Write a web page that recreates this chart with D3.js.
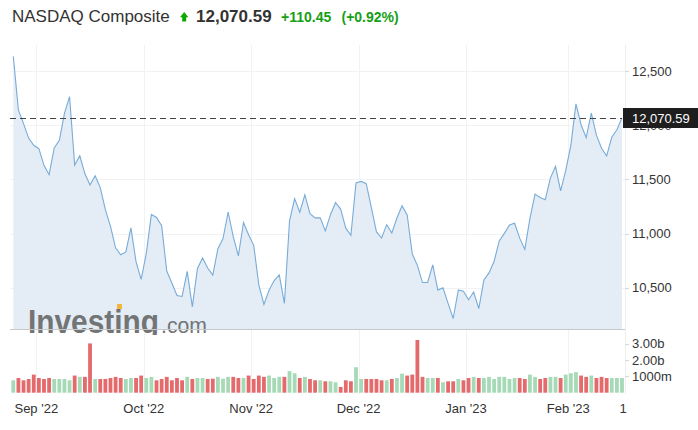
<!DOCTYPE html>
<html><head><meta charset="utf-8">
<script src="https://cdn.jsdelivr.net/npm/d3@7"></script>
<style>body{margin:0;background:#fff}svg{display:block;font-family:"Liberation Sans",Arial,sans-serif}</style>
</head><body><svg id="c" width="698" height="430"></svg>
<script>
// ---- data ----
const title = "NASDAQ Composite";
const lastLabel = "12,070.59";
const changeLabel = "+110.45";
const changePctLabel = "(+0.92%)";
const lastValue = 12070.59;
const prevClose = 12431.53; // close before first point
const dates = ["2022-08-25","2022-08-26","2022-08-29","2022-08-30","2022-08-31",
"2022-09-01","2022-09-02","2022-09-06","2022-09-07","2022-09-08","2022-09-09","2022-09-12","2022-09-13","2022-09-14","2022-09-15","2022-09-16","2022-09-19","2022-09-20","2022-09-21","2022-09-22","2022-09-23","2022-09-26","2022-09-27","2022-09-28","2022-09-29","2022-09-30",
"2022-10-03","2022-10-04","2022-10-05","2022-10-06","2022-10-07","2022-10-10","2022-10-11","2022-10-12","2022-10-13","2022-10-14","2022-10-17","2022-10-18","2022-10-19","2022-10-20","2022-10-21","2022-10-24","2022-10-25","2022-10-26","2022-10-27","2022-10-28","2022-10-31",
"2022-11-01","2022-11-02","2022-11-03","2022-11-04","2022-11-07","2022-11-08","2022-11-09","2022-11-10","2022-11-11","2022-11-14","2022-11-15","2022-11-16","2022-11-17","2022-11-18","2022-11-21","2022-11-22","2022-11-23","2022-11-25","2022-11-28","2022-11-29","2022-11-30",
"2022-12-01","2022-12-02","2022-12-05","2022-12-06","2022-12-07","2022-12-08","2022-12-09","2022-12-12","2022-12-13","2022-12-14","2022-12-15","2022-12-16","2022-12-19","2022-12-20","2022-12-21","2022-12-22","2022-12-23","2022-12-27","2022-12-28","2022-12-29","2022-12-30",
"2023-01-03","2023-01-04","2023-01-05","2023-01-06","2023-01-09","2023-01-10","2023-01-11","2023-01-12","2023-01-13","2023-01-17","2023-01-18","2023-01-19","2023-01-20","2023-01-23","2023-01-24","2023-01-25","2023-01-26","2023-01-27","2023-01-30","2023-01-31",
"2023-02-01","2023-02-02","2023-02-03","2023-02-06","2023-02-07","2023-02-08","2023-02-09","2023-02-10","2023-02-13","2023-02-14","2023-02-15"];
const closes = [12639.27,12141.71,12017.67,11883.14,11816.20,
11785.13,11630.86,11544.91,11791.90,11862.13,12112.31,12266.41,11633.57,11719.68,11552.36,11448.40,11535.02,11425.05,11220.19,11066.81,10867.93,10802.92,10829.50,11051.64,10737.51,10575.62,
10815.43,11176.41,11148.64,11073.31,10652.41,10542.10,10426.19,10417.10,10649.15,10321.39,10675.80,10772.40,10680.51,10614.84,10859.72,10952.61,11199.12,10970.99,10792.68,11102.45,10988.15,
10890.85,10524.80,10342.94,10475.25,10564.52,10616.20,10353.17,11114.15,11323.33,11196.22,11358.41,11183.66,11144.96,11146.06,11024.51,11174.41,11285.32,11226.36,11049.50,10983.78,11468.00,
11482.45,11461.50,11239.94,11014.89,10958.55,11082.00,11004.62,11143.74,11256.81,11170.89,10810.53,10705.41,10546.03,10547.11,10709.37,10476.12,10497.86,10353.23,10213.29,10478.09,10466.48,
10386.98,10458.76,10305.24,10569.29,10635.65,10742.63,10931.67,11001.10,11079.16,11095.11,10957.01,10852.27,11140.43,11364.41,11334.27,11313.36,11512.41,11621.71,11393.81,11584.55,
11816.32,12200.82,12006.96,11887.45,12113.79,11910.52,11789.58,11718.12,11891.79,11960.15,12070.59];
// volume in billions
const volumes = [0.76,0.90,0.76,0.84,1.11,
0.90,0.84,0.90,0.84,0.84,0.84,0.76,1.05,0.97,0.97,3.02,0.84,0.84,0.84,0.90,0.97,0.90,0.84,0.90,0.90,1.05,
0.90,0.97,0.76,0.84,0.97,0.76,0.90,0.76,0.97,0.84,0.90,0.90,0.84,0.86,0.97,0.86,0.97,0.97,0.90,0.90,1.05,
0.84,1.05,0.97,1.05,0.90,0.97,0.97,1.32,1.19,0.90,0.97,0.84,0.76,0.76,0.70,0.70,0.64,0.35,0.76,0.70,1.56,
0.84,0.84,0.84,0.84,0.76,0.76,0.84,0.90,1.17,1.05,1.11,3.23,0.97,0.90,0.90,0.90,0.64,0.70,0.70,0.84,0.76,
0.90,0.97,0.90,0.90,0.97,0.84,0.97,0.97,0.84,0.90,0.90,0.84,1.11,0.97,0.84,0.90,0.97,0.97,0.90,1.11,
1.19,1.26,1.05,0.97,1.05,0.90,0.97,0.90,0.90,0.90,0.90];
const priceTicks = [10500, 11000, 11500, 12000, 12500];
const volTicks = [1, 2, 3];
const volTickLabels = ["1000m", "2.00b", "3.00b"];
const monthTickIdx = [5, 26, 47, 68, 89, 109];
const monthTickLabels = ["Sep '22", "Oct '22", "Nov '22", "Dec '22", "Jan '23", "Feb '23"];
const edgeTickLabel = "1";

// ---- drawing ----
const svg = d3.select("#c");
const n = closes.length;
const x = d3.scaleLinear().domain([0, n - 1]).range([13.3, 622]);
const y = d3.scaleLinear().domain([10116, 12745]).range([329, 45]);
const yv = d3.scaleLinear().domain([0, 3.5]).range([392.7, 335.6]);
const plotL = 10, plotR = 625;
const fmt = d3.format(",");

// grid
const grid = svg.append("g");
grid.selectAll("line.h").data(priceTicks).join("line")
  .attr("x1", plotL).attr("x2", plotR).attr("y1", d => Math.round(y(d)) + 0.5).attr("y2", d => Math.round(y(d)) + 0.5)
  .attr("stroke", "#f0f2f4");
grid.selectAll("line.v").data(monthTickIdx).join("line")
  .attr("x1", d => Math.round(x(d - 0.5)) + 0.5).attr("x2", d => Math.round(x(d - 0.5)) + 0.5)
  .attr("y1", 45).attr("y2", 394).attr("stroke", "#f0f2f4");

// area + line
const area = d3.area().x((d, i) => x(i)).y0(329).y1(d => y(d));
svg.append("path").datum(closes).attr("d", area).attr("fill", "#e4edf5");

// watermark
svg.append("clipPath").attr("id", "wmclip").append("rect").attr("x", 0).attr("y", 280).attr("width", 300).attr("height", 55);
const wm = svg.append("g").attr("clip-path", "url(#wmclip)");
wm.append("text").attr("x", 28).attr("y", 333).attr("font-size", 34).attr("font-weight", "bold")
  .attr("textLength", 131).attr("lengthAdjust", "spacingAndGlyphs").attr("fill", "#727476").text("Investing");
wm.append("rect").attr("x", 117).attr("y", 304).attr("width", 5).attr("height", 5).attr("fill", "#f2b63c");
wm.append("text").attr("x", 161).attr("y", 333).attr("font-size", 22)
  .attr("textLength", 46).attr("lengthAdjust", "spacingAndGlyphs").attr("fill", "#727476").text(".com");

const line = d3.line().x((d, i) => x(i)).y(d => y(d));
svg.append("path").datum(closes).attr("d", line).attr("fill", "none").attr("stroke", "#78acd8").attr("stroke-width", 1.1);

// bottom of price panel
svg.append("line").attr("x1", plotL).attr("x2", plotR).attr("y1", 329.5).attr("y2", 329.5).attr("stroke", "#c8c8c8");
// right border
svg.append("line").attr("x1", plotR + 0.5).attr("x2", plotR + 0.5).attr("y1", 45).attr("y2", 394).attr("stroke", "#eceef0");

// volume bars
svg.append("g").selectAll("rect").data(volumes).join("rect")
  .attr("x", (d, i) => x(i) - 1.9).attr("width", 3.8)
  .attr("y", d => yv(d)).attr("height", d => yv(0) - yv(d))
  .attr("fill", (d, i) => (closes[i] >= (i === 0 ? prevClose : closes[i - 1])) ? "#a6dab7" : "#e46a6c");

// price axis labels
const axisG = svg.append("g").attr("font-size", 13).attr("fill", "#333");
axisG.selectAll("text.p").data(priceTicks).join("text")
  .attr("x", 632).attr("y", d => y(d) + 4.5).text(d => fmt(d));
svg.append("g").selectAll("line").data(priceTicks).join("line")
  .attr("x1", plotR).attr("x2", plotR + 4).attr("y1", d => Math.round(y(d)) + 0.5).attr("y2", d => Math.round(y(d)) + 0.5).attr("stroke", "#d8d8d8");
// volume axis
axisG.selectAll("text.v").data(volTicks).join("text")
  .attr("x", 632).attr("y", d => yv(d) + 4.5).text((d, i) => volTickLabels[i]);
svg.append("g").selectAll("line").data(volTicks).join("line")
  .attr("x1", plotR).attr("x2", plotR + 4).attr("y1", d => Math.round(yv(d)) + 0.5).attr("y2", d => Math.round(yv(d)) + 0.5).attr("stroke", "#d8d8d8");
// x labels
axisG.selectAll("text.x").data(monthTickIdx).join("text")
  .attr("x", d => x(d - 0.5)).attr("y", 413).attr("text-anchor", "middle").text((d, i) => monthTickLabels[i]);
axisG.append("text").attr("x", x(n - 1) + 1).attr("y", 413).attr("text-anchor", "middle").text(edgeTickLabel);

// last price dashed line + label
const ly = Math.round(y(lastValue)) + 0.5;
svg.append("line").attr("x1", plotL).attr("x2", x(n - 1)).attr("y1", ly).attr("y2", ly)
  .attr("stroke", "#444").attr("stroke-dasharray", "6,4");
svg.append("rect").attr("x", 623).attr("y", ly - 10.5).attr("width", 80).attr("height", 20).attr("fill", "#1e1e1e");
svg.append("text").attr("x", 632).attr("y", ly + 4.5).attr("font-size", 13).attr("fill", "#fff").text(lastLabel);

// header
svg.append("text").attr("x", 12).attr("y", 22).attr("font-size", 17).attr("fill", "#333").text(title);
svg.append("path").attr("d", "M180,17.2L184.2,12L188.4,17.2L186.2,17.2L186.2,21.5L182.2,21.5L182.2,17.2Z").attr("fill", "#0ea600");
svg.append("text").attr("x", 196).attr("y", 22).attr("font-size", 17).attr("font-weight", "bold").attr("fill", "#333").text(lastLabel);
svg.append("text").attr("x", 281).attr("y", 21.5).attr("font-size", 14).attr("font-weight", "bold").attr("fill", "#16a016").text(changeLabel);
svg.append("text").attr("x", 341.5).attr("y", 21.5).attr("font-size", 14).attr("font-weight", "bold").attr("fill", "#16a016").text(changePctLabel);
</script></body></html>
